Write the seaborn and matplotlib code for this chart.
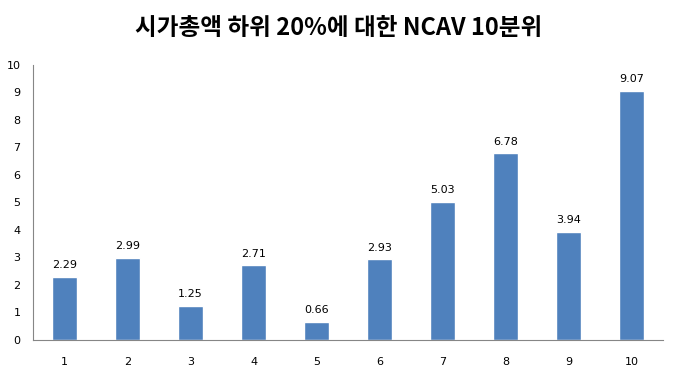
import matplotlib
matplotlib.use("Agg")
import matplotlib.pyplot as plt
import seaborn as sns
import pandas as pd

# data
deciles = ['1', '2', '3', '4', '5', '6', '7', '8', '9', '10']
ncav_values = [2.29, 2.99, 1.25, 2.71, 0.66, 2.93, 5.03, 6.78, 3.94, 9.07]
title_text = '시가총액 하위 20%에 대한 NCAV 10분위'

df = pd.DataFrame({'decile': deciles, 'value': ncav_values})

sns.set_style('white')
plt.rcParams['font.family'] = ['Noto Sans CJK KR', 'DejaVu Sans']

fig = plt.figure(figsize=(6.78, 3.71), dpi=100)
ax = fig.add_axes([0.0487, 0.0836, 0.9293, 0.7414])

sns.barplot(data=df, x='decile', y='value', color='#4F81BD', width=0.41,
            saturation=1, ax=ax)

for i, v in enumerate(ncav_values):
    ax.text(i, v + 0.25, f'{v:.2f}', ha='center', va='bottom', fontsize=8,
            color='black', family=['DejaVu Sans'])

ax.set_ylim(0, 10)
ax.set_yticks(range(0, 11))
ax.set_xlim(-0.5, 9.5)
ax.set_xlabel('')
ax.set_ylabel('')
ax.tick_params(axis='both', length=0, labelsize=8, labelcolor='black')
ax.tick_params(axis='x', pad=12)
ax.tick_params(axis='y', pad=9)
for lab in ax.get_xticklabels() + ax.get_yticklabels():
    lab.set_family(['DejaVu Sans'])

sns.despine(ax=ax, top=True, right=True)
for s in ['left', 'bottom']:
    ax.spines[s].set_color('#868686')
    ax.spines[s].set_linewidth(0.8)

fig.text(0.5, 0.925, title_text, ha='center', va='center', fontsize=17,
         fontweight='bold', color='black')

fig.savefig('out.png', dpi=100)
